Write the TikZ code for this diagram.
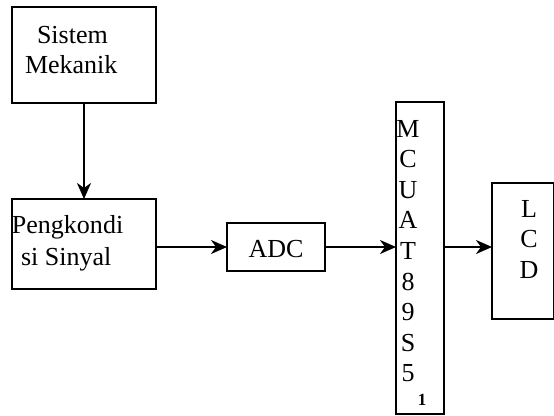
\documentclass[tikz,border=0pt]{standalone}
\usepackage{fontspec}
\setmainfont{Liberation Serif}
\usetikzlibrary{arrows.meta}
\begin{document}
\begin{tikzpicture}[x=1pt,y=-1pt,
  box/.style={draw,line width=2pt,inner sep=0pt,outer sep=0pt},
  lbl/.style={inner sep=0pt,outer sep=0pt,font=\fontsize{26}{30}\selectfont},
  small/.style={inner sep=0pt,outer sep=0pt,font=\fontsize{17}{19}\selectfont\bfseries},
  conn/.style={line width=2pt,-{Stealth[length=16pt,width=14pt,inset=5pt]}}]
\useasboundingbox (0,0) rectangle (554,415);
% boxes
\node[box,minimum width=144pt,minimum height=96pt] (sm) at (84,55) {};
\node[box,minimum width=144pt,minimum height=90pt] (ps) at (84,244) {};
\node[box,minimum width=98pt,minimum height=48pt] (adc) at (276,247) {};
\node[box,minimum width=48pt,minimum height=312pt] (mcu) at (420,258) {};
\node[box,minimum width=62pt,minimum height=136pt] (lcd) at (523,251) {};
% texts
\node[lbl,anchor=base west] (t1) at (37,43) {Sistem};
\node[lbl,anchor=base west] (t2) at (25,73) {Mekanik};
\node[lbl,anchor=base west] (t3) at (12,233) {Pengkondi};
\node[lbl,anchor=base west] (t4) at (21,265) {si Sinyal};
\node[lbl,anchor=base] (t5) at (276,257) {ADC};
\node[lbl,anchor=base] (m1) at (408,137) {M};
\node[lbl,anchor=base] (m2) at (408,167.6) {C};
\node[lbl,anchor=base] (m3) at (408,198.2) {U};
\node[lbl,anchor=base] (m4) at (408,228.8) {A};
\node[lbl,anchor=base] (m5) at (408,259.4) {T};
\node[lbl,anchor=base] (m6) at (408,290) {8};
\node[lbl,anchor=base] (m7) at (408,320.6) {9};
\node[lbl,anchor=base] (m8) at (408,351.2) {S};
\node[lbl,anchor=base] (m9) at (408,381.8) {5};
\node[small,anchor=base] (m10) at (422,405) {1};
\node[lbl,anchor=base] (l1) at (529,217) {L};
\node[lbl,anchor=base] (l2) at (529,247.5) {C};
\node[lbl,anchor=base] (l3) at (529,278) {D};
% connectors
\draw[conn] (sm.south) -- (ps.north);
\draw[conn] (ps.east |- 0,247) -- (adc.west |- 0,247);
\draw[conn] (adc.east |- 0,247) -- (mcu.west |- 0,247);
\draw[conn] (mcu.east |- 0,247) -- (lcd.west |- 0,247);
\end{tikzpicture}
\end{document}
